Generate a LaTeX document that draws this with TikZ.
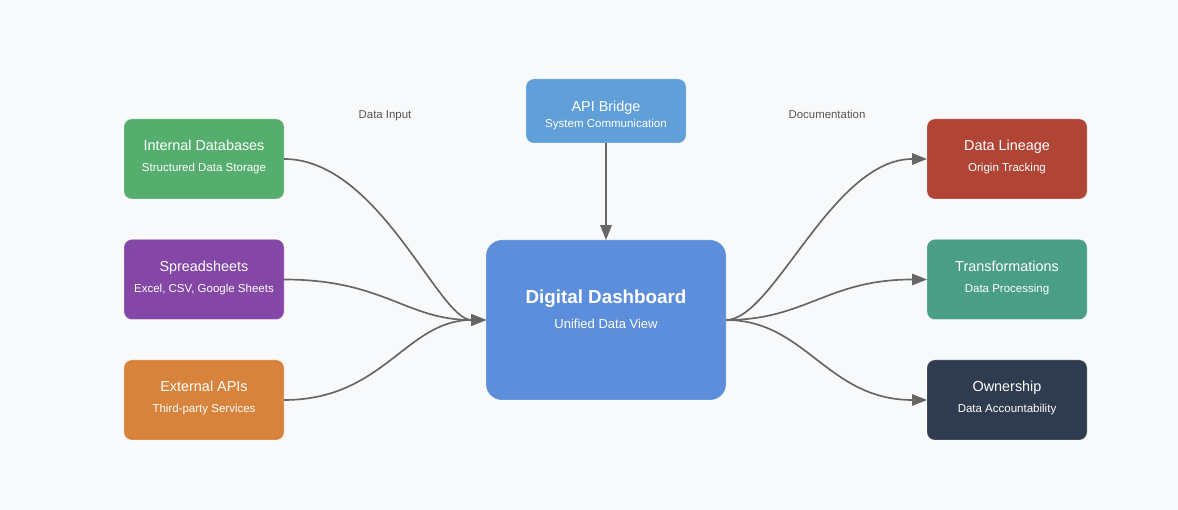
\documentclass[tikz,border=0pt]{standalone}
\usepackage{fontspec}
\setmainfont{Liberation Sans}
\usetikzlibrary{arrows.meta}
\definecolor{Page}{RGB}{248,249,250}
\definecolor{Database}{RGB}{85,174,109}
\definecolor{Sheet}{RGB}{132,71,165}
\definecolor{External}{RGB}{216,131,59}
\definecolor{Bridge}{RGB}{97,159,217}
\definecolor{Dashboard}{RGB}{92,142,220}
\definecolor{Lineage}{RGB}{176,68,53}
\definecolor{Transform}{RGB}{74,158,133}
\definecolor{Owner}{RGB}{47,60,79}
\definecolor{Link}{RGB}{102,102,102}
\definecolor{Caption}{RGB}{85,85,85}
\newcommand{\CardTitle}{\fontsize{8.2}{10}\selectfont}
\newcommand{\CardSub}{\fontsize{6.55}{8}\selectfont}
\tikzset{
	card/.style={draw=white, draw opacity=.25, line width=.4pt, shape=rectangle, rounded corners=4.5pt, minimum width=3.2cm, minimum height=1.6cm, align=center, text=white, outer sep=0pt, inner sep=0pt, text depth=3.4pt},
	link/.style={draw=Link, line width=.95pt, -{Triangle[length=8.5pt, width=6.5pt]}},
	caption/.style={text=Caption, font=\fontsize{6.5}{8}\selectfont, inner sep=0pt, text height=5pt, text depth=1pt}
}
\begin{document}
\begin{tikzpicture}
	\useasboundingbox [fill=Page] (0,0) rectangle (23.56,10.2);
	\node [card, fill=Database] (internal) at (4.08, 7.02) {\CardTitle Internal Databases\\[0pt]\CardSub Structured Data Storage};
	\node [card, fill=Sheet] (sheets) at (4.08, 4.61) {\CardTitle Spreadsheets\\[0pt]\CardSub Excel, CSV, Google Sheets};
	\node [card, fill=External] (external) at (4.08, 2.2) {\CardTitle External APIs\\[0pt]\CardSub Third-party Services};
	\node [card, fill=Bridge, minimum height=1.28cm, text height=19pt, text depth=0pt] (bridge) at (12.12, 7.98) {\CardTitle API Bridge\\[-3pt]\CardSub System Communication};
	\node [card, fill=Dashboard, minimum width=4.8cm, minimum height=3.2cm, rounded corners=9pt, text depth=12pt] (dashboard) at (12.12, 3.8) {\fontsize{10.7}{12}\selectfont\bfseries Digital Dashboard\\[2.3pt]\fontsize{7.4}{9}\selectfont Unified Data View};
	\node [card, fill=Lineage] (lineage) at (20.14, 7.02) {\CardTitle Data Lineage\\[0pt]\CardSub Origin Tracking};
	\node [card, fill=Transform] (transform) at (20.14, 4.61) {\CardTitle Transformations\\[0pt]\CardSub Data Processing};
	\node [card, fill=Owner] (owner) at (20.14, 2.2) {\CardTitle Ownership\\[0pt]\CardSub Data Accountability};
	\node [caption] (input) at (7.7, 7.9) {Data Input};
	\node [caption] (docs) at (16.54, 7.9) {Documentation};
	\draw [link] (internal.east) .. controls +(1.9,0) and +(-0.95,0) .. (dashboard.west);
	\draw [link] (sheets.east) .. controls +(2.0,0) and +(-1.6,0) .. (dashboard.west);
	\draw [link] (external.east) .. controls +(2.0,0) and +(-1.6,0) .. (dashboard.west);
	\draw [link] (bridge.south) -- (dashboard.north);
	\draw [link] (dashboard.east) .. controls +(0.95,0) and +(-1.9,0) .. (lineage.west);
	\draw [link] (dashboard.east) .. controls +(1.6,0) and +(-2.0,0) .. (transform.west);
	\draw [link] (dashboard.east) .. controls +(1.6,0) and +(-2.0,0) .. (owner.west);
\end{tikzpicture}
\end{document}
